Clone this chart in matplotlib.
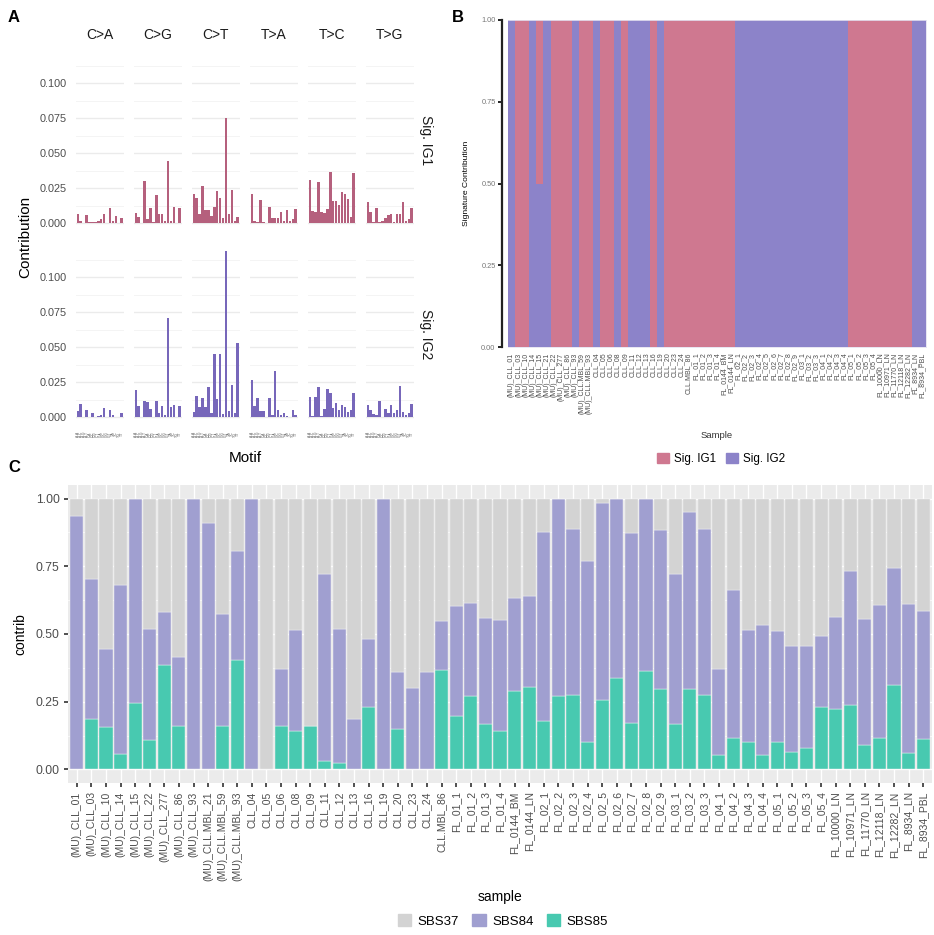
import matplotlib

matplotlib.use("Agg")

import matplotlib.pyplot as plt
from matplotlib.patches import Patch

plt.rcParams["font.family"] = ["Liberation Sans", "DejaVu Sans"]

# ---- panel A: 96-channel profiles of the two extracted signatures ----
mut_types = ["C>A", "C>G", "C>T", "T>A", "T>C", "T>G"]
bases = ["A", "C", "G", "T"]

sig_ig1 = [
    # C>A
    0.007, 0.002, 0.000, 0.006, 0.001, 0.001, 0.001, 0.002,
    0.003, 0.007, 0.000, 0.011, 0.002, 0.005, 0.000, 0.004,
    # C>G
    0.0076, 0.0043, 0.0005, 0.030, 0.0029, 0.011, 0.001, 0.020,
    0.0067, 0.0067, 0.002, 0.0445, 0.002, 0.012, 0.000, 0.011,
    # C>T
    0.021, 0.018, 0.0067, 0.027, 0.0095, 0.0095, 0.0052, 0.012,
    0.023, 0.018, 0.0036, 0.075, 0.007, 0.024, 0.002, 0.0043,
    # T>A
    0.021, 0.0017, 0.001, 0.0164, 0.001, 0.0005, 0.0114, 0.004,
    0.004, 0.0036, 0.0079, 0.0017, 0.0093, 0.0017, 0.003, 0.0102,
    # T>C
    0.031, 0.0088, 0.0083, 0.0295, 0.0083, 0.0076, 0.010, 0.037,
    0.016, 0.016, 0.013, 0.0226, 0.021, 0.0176, 0.0045, 0.0357,
    # T>G
    0.0155, 0.0083, 0.001, 0.0107, 0.001, 0.002, 0.0036, 0.006,
    0.007, 0.0007, 0.007, 0.007, 0.015, 0.0017, 0.003, 0.0107,
]

sig_ig2 = [
    # C>A
    0.0045, 0.0095, 0.000, 0.005, 0.0005, 0.003, 0.0005, 0.001,
    0.0015, 0.0067, 0.000, 0.005, 0.0017, 0.000, 0.000, 0.003,
    # C>G
    0.0195, 0.0083, 0.0005, 0.012, 0.0107, 0.006, 0.0005, 0.012,
    0.003, 0.008, 0.0017, 0.071, 0.0076, 0.0088, 0.000, 0.008,
    # C>T
    0.004, 0.015, 0.0076, 0.014, 0.0076, 0.022, 0.003, 0.0455,
    0.0133, 0.045, 0.0026, 0.119, 0.0045, 0.0233, 0.0033, 0.053,
    # T>A
    0.027, 0.008, 0.014, 0.0045, 0.0045, 0.0005, 0.014, 0.0017,
    0.033, 0.005, 0.0014, 0.003, 0.001, 0.000, 0.005, 0.0017,
    # T>C
    0.0145, 0.001, 0.0145, 0.022, 0.001, 0.006, 0.020, 0.0174,
    0.0067, 0.0105, 0.005, 0.0086, 0.0076, 0.004, 0.005, 0.0174,
    # T>G
    0.009, 0.005, 0.0026, 0.002, 0.012, 0.0005, 0.0057, 0.0033,
    0.0088, 0.0033, 0.005, 0.0226, 0.0036, 0.002, 0.003, 0.0095,
]

# ---- panel B: per-sample assignment to Sig. IG1 / Sig. IG2 ----
samples_b = [
    "(MU)_CLL_01", "(MU)_CLL_03", "(MU)_CLL_10", "(MU)_CLL_14", "(MU)_CLL_15",
    "(MU)_CLL_21", "(MU)_CLL_22", "(MU)_CLL_277", "(MU)_CLL_86", "(MU)_CLL_93",
    "(MU)_CLL.MBL_59", "(MU)_CLL.MBL_93",
    "CLL_04", "CLL_05", "CLL_06", "CLL_08", "CLL_09", "CLL_11", "CLL_12",
    "CLL_13", "CLL_16", "CLL_19", "CLL_20", "CLL_23", "CLL_24", "CLL.MBL_86",
    "FL_01_1", "FL_01_2", "FL_01_3", "FL_01_4", "FL_0144_BM", "FL_0144_LN",
    "FL_02_1", "FL_02_2", "FL_02_3", "FL_02_4", "FL_02_5", "FL_02_6",
    "FL_02_7", "FL_02_8", "FL_02_9", "FL_03_1", "FL_03_2", "FL_03_3",
    "FL_04_1", "FL_04_2", "FL_04_3", "FL_04_4",
    "FL_05_1", "FL_05_2", "FL_05_3", "FL_05_4",
    "FL_10000_LN", "FL_10971_LN", "FL_11770_LN", "FL_12118_LN",
    "FL_12282_LN", "FL_8934_LN", "FL_8934_PBL",
]
ig1_share = [
    0, 1, 1, 0, 0.5, 0, 1, 1, 1, 0, 1, 1,
    0, 1, 1, 0, 1, 0, 0, 0, 1, 0, 1, 1, 1, 1,
    1, 1, 1, 1, 1, 1,
    0, 0, 0, 0, 0, 0, 0, 0, 0, 0, 0, 0, 0, 0, 0, 0,
    1, 1, 1, 1, 1, 1, 1, 1, 1,
    0, 0,
]

# ---- panel C: COSMIC SBS37 / SBS84 / SBS85 refit ----
samples_c = [
    "(MU)_CLL_01", "(MU)_CLL_03", "(MU)_CLL_10", "(MU)_CLL_14", "(MU)_CLL_15",
    "(MU)_CLL_22", "(MU)_CLL_277", "(MU)_CLL_86", "(MU)_CLL_93",
    "(MU)_CLL.MBL_21", "(MU)_CLL.MBL_59", "(MU)_CLL.MBL_93",
    "CLL_04", "CLL_05", "CLL_06", "CLL_08", "CLL_09", "CLL_11", "CLL_12",
    "CLL_13", "CLL_16", "CLL_19", "CLL_20", "CLL_23", "CLL_24", "CLL.MBL_86",
    "FL_01_1", "FL_01_2", "FL_01_3", "FL_01_4", "FL_0144_BM", "FL_0144_LN",
    "FL_02_1", "FL_02_2", "FL_02_3", "FL_02_4", "FL_02_5", "FL_02_6",
    "FL_02_7", "FL_02_8", "FL_02_9", "FL_03_1", "FL_03_2", "FL_03_3",
    "FL_04_1", "FL_04_2", "FL_04_3", "FL_04_4",
    "FL_05_1", "FL_05_2", "FL_05_3", "FL_05_4",
    "FL_10000_LN", "FL_10971_LN", "FL_11770_LN", "FL_12118_LN",
    "FL_12282_LN", "FL_8934_LN", "FL_8934_PBL",
]
sbs85 = [
    0.0, 0.185, 0.156, 0.058, 0.246, 0.107, 0.385, 0.161, 0.0, 0.0, 0.161, 0.403,
    0.0, 0.0, 0.161, 0.142, 0.160, 0.033, 0.025, 0.0, 0.230, 0.0, 0.151, 0.0,
    0.0, 0.368,
    0.197, 0.272, 0.167, 0.143, 0.288, 0.303,
    0.180, 0.272, 0.273, 0.100, 0.255, 0.339, 0.171, 0.362, 0.296,
    0.166, 0.296, 0.275, 0.052, 0.115, 0.102, 0.053,
    0.100, 0.064, 0.079, 0.232,
    0.222, 0.238, 0.090, 0.116, 0.312, 0.060, 0.112,
]
sbs84 = [
    0.936, 0.517, 0.290, 0.623, 0.754, 0.411, 0.197, 0.253, 1.0, 0.909, 0.414,
    0.405,
    1.0, 0.0, 0.211, 0.372, 0.0, 0.689, 0.495, 0.185, 0.250, 1.0, 0.207, 0.299,
    0.360, 0.181,
    0.405, 0.343, 0.391, 0.410, 0.345, 0.339,
    0.698, 0.728, 0.616, 0.670, 0.730, 0.661, 0.703, 0.638, 0.588,
    0.556, 0.655, 0.614, 0.319, 0.546, 0.413, 0.479,
    0.410, 0.392, 0.377, 0.262,
    0.342, 0.495, 0.464, 0.492, 0.431, 0.550, 0.474,
]
sbs37 = [1.0 - a - b for a, b in zip(sbs84, sbs85)]

W, H = 934, 935


def fx(px):
    return px / W


def fy(py):
    return 1 - py / H


def box(left, top, right, bottom):
    return [fx(left), fy(bottom), (right - left) / W, (bottom - top) / H]


fig = plt.figure(figsize=(W / 100, H / 100), dpi=100)
grey_txt = "#4D4D4D"

# ---------------- panel A ----------------
contexts = [f"{a}.{b}" for a in bases for b in bases]
rows = [(sig_ig1, "#B5607D", 48, 232, "Sig. IG1"),
        (sig_ig2, "#7767BA", 242, 426, "Sig. IG2")]
for r, (sig, col, top, bottom, lab) in enumerate(rows):
    for i, mt in enumerate(mut_types):
        left = 76 + 58 * i
        ax = fig.add_axes(box(left, top, left + 47.5, bottom))
        vals = sig[16 * i:16 * (i + 1)]
        ax.bar(range(16), vals, width=0.85, color=col, zorder=3)
        ax.set_xlim(-0.6, 15.6)
        ax.set_ylim(-0.0062, 0.1252)
        ax.set_yticks([0, 0.025, 0.05, 0.075, 0.1])
        ax.set_yticks([0.0125, 0.0375, 0.0625, 0.0875, 0.1125], minor=True)
        ax.grid(axis="y", which="major", color="#EBEBEB", lw=1.0, zorder=0)
        ax.grid(axis="y", which="minor", color="#F2F2F2", lw=0.6, zorder=0)
        for s in ax.spines.values():
            s.set_visible(False)
        ax.tick_params(which="both", length=0)
        if i == 0:
            ax.set_yticklabels(["0.000", "0.025", "0.050", "0.075", "0.100"],
                               fontsize=7.8, color=grey_txt)
            ax.tick_params(axis="y", pad=7)
        else:
            ax.set_yticklabels([])
        if r == 1:
            ax.set_xticks(range(16))
            ax.set_xticklabels(contexts, rotation=90, fontsize=2.3,
                               color=grey_txt)
            ax.tick_params(axis="x", pad=4)
        else:
            ax.set_xticks([])
            fig.text(fx(left + 23.75), fy(35), mt, ha="center", va="center",
                     fontsize=10, color="#1A1A1A")
    fig.text(fx(426), fy((top + bottom) / 2), lab, rotation=270,
             ha="center", va="center", fontsize=10, color="#1A1A1A")

fig.text(fx(25), fy(237), "Contribution", rotation=90, ha="center",
         va="center", fontsize=11)
fig.text(fx(245), fy(458), "Motif", ha="center", va="center", fontsize=11)
fig.text(fx(14), fy(18), "A", ha="center", va="center", fontsize=12,
         fontweight="bold")

# ---------------- panel B ----------------
col_ig1, col_ig2 = "#CF7890", "#8C83C9"
axb = fig.add_axes(box(508, 20, 926, 347))
axb.spines["left"].set_position(("outward", 4))
xb = range(len(samples_b))
ig2_share = [1 - v for v in ig1_share]
axb.bar(xb, ig2_share, width=1.0, color=col_ig2, lw=0)
axb.bar(xb, ig1_share, bottom=ig2_share, width=1.0, color=col_ig1, lw=0)
axb.set_xlim(-0.5, len(samples_b) - 0.5)
axb.set_ylim(0, 1)
axb.set_yticks([0, 0.25, 0.5, 0.75, 1.0])
axb.set_yticklabels(["0.00", "0.25", "0.50", "0.75", "1.00"], fontsize=5.3,
                    color="#777777")
axb.set_xticks(list(xb))
axb.set_xticklabels(samples_b, rotation=90, fontsize=5, color=grey_txt)
axb.tick_params(axis="x", length=0, pad=4)
axb.tick_params(axis="y", length=3, width=1.4, color="#222222", pad=2)
axb.spines["left"].set_linewidth(1.6)
axb.spines["left"].set_color("#222222")
for s in ["top", "right", "bottom"]:
    axb.spines[s].set_color("#E4E2F0")
    axb.spines[s].set_linewidth(0.6)
axb.set_ylabel("Signature Contribution", fontsize=6.1, labelpad=8)
fig.text(fx(717), fy(435), "Sample", ha="center", va="center", fontsize=6.8,
         color="#333333")
fig.legend(handles=[Patch(color=col_ig1, label="Sig. IG1"),
                    Patch(color=col_ig2, label="Sig. IG2")],
           loc="center", bbox_to_anchor=(fx(721), fy(459)), ncol=2,
           frameon=False, fontsize=8.4, handlelength=1.0, handleheight=1.0,
           handletextpad=0.4, columnspacing=0.9)
fig.text(fx(458), fy(18), "B", ha="center", va="center", fontsize=12,
         fontweight="bold")

# ---------------- panel C ----------------
c37, c84, c85 = "#D3D3D3", "#A09FD0", "#48C9B0"
axc = fig.add_axes(box(68, 485, 932, 783))
axc.set_facecolor("#EBEBEB")
xc = range(len(samples_c))
bottom84 = sbs85
bottom37 = [a + b for a, b in zip(sbs85, sbs84)]
axc.bar(xc, sbs85, width=0.9, color=c85, edgecolor="#F4F4F4", lw=0.3,
        zorder=3)
axc.bar(xc, sbs84, bottom=bottom84, width=0.9, color=c84, edgecolor="#F4F4F4",
        lw=0.3, zorder=3)
axc.bar(xc, sbs37, bottom=bottom37, width=0.9, color=c37, edgecolor="#F4F4F4",
        lw=0.3, zorder=3)
axc.set_xlim(-0.6, len(samples_c) - 0.4)
axc.set_ylim(-0.05, 1.05)
axc.set_yticks([0, 0.25, 0.5, 0.75, 1.0])
axc.set_yticks([0.125, 0.375, 0.625, 0.875], minor=True)
axc.set_yticklabels(["0.00", "0.25", "0.50", "0.75", "1.00"], fontsize=8.8,
                    color=grey_txt)
axc.set_xticks(list(xc))
axc.set_xticklabels(samples_c, rotation=90, fontsize=7.5, color=grey_txt)
axc.grid(which="major", color="white", lw=1.0, zorder=0)
axc.grid(axis="y", which="minor", color="white", lw=0.5, zorder=0)
axc.tick_params(which="major", length=3, width=1.2, color="#333333", pad=3)
axc.tick_params(which="minor", length=0)
for s in axc.spines.values():
    s.set_visible(False)
axc.set_ylabel("contrib", fontsize=10, labelpad=6)
fig.text(fx(500), fy(897), "sample", ha="center", va="center", fontsize=10)
fig.legend(handles=[Patch(color=c37, label="SBS37"),
                    Patch(color=c84, label="SBS84"),
                    Patch(color=c85, label="SBS85")],
           loc="center", bbox_to_anchor=(fx(503), fy(921)), ncol=3,
           frameon=False, fontsize=9.5, handlelength=1.0, handleheight=1.0,
           handletextpad=0.5, columnspacing=1.0)
fig.text(fx(14), fy(468), "C", ha="center", va="center", fontsize=12,
         fontweight="bold")

fig.savefig("out.png", dpi=100)
plt.close(fig)
